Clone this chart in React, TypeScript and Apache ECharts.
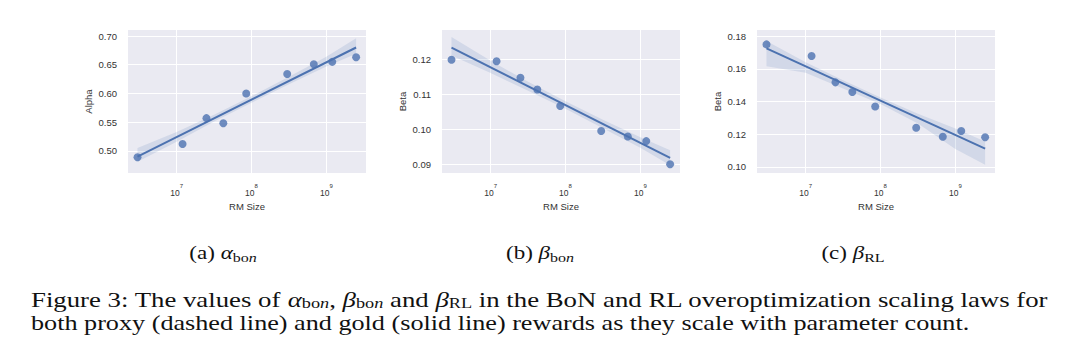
import React, { useEffect, useRef } from "react";
import * as echarts from "echarts";

// ---- data ----
const RM_SIZE = [3e6, 1.2e7, 2.5e7, 4.2e7, 8.5e7, 3e8, 6.8e8, 1.2e9, 2.5e9];
const ALPHA_BON = [0.489, 0.512, 0.557, 0.548, 0.6, 0.634, 0.651, 0.655, 0.663];
const BETA_BON = [0.1198, 0.1194, 0.1147, 0.1113, 0.1066, 0.0995, 0.0979, 0.0966, 0.09];
const BETA_RL = [0.1749, 0.1678, 0.1517, 0.1458, 0.1369, 0.124, 0.1185, 0.122, 0.1182];

// fitted regression line (values at first and last RM size)
const ALPHA_FIT = [0.49, 0.68];
const BETA_BON_FIT = [0.1233, 0.0918];
const BETA_RL_FIT = [0.1725, 0.1112];

// confidence band, read at these log10(RM size) positions
const BAND_LOG10_SIZE = [6.477, 7.0, 7.5, 8.0, 8.5, 9.0, 9.398];
const ALPHA_UPPER = [0.505, 0.533, 0.563, 0.595, 0.629, 0.664, 0.696];
const ALPHA_LOWER = [0.481, 0.516, 0.551, 0.584, 0.616, 0.647, 0.669];
const BETA_BON_UPPER = [0.1263, 0.1195, 0.1135, 0.108, 0.1027, 0.0977, 0.094];
const BETA_BON_LOWER = [0.121, 0.116, 0.111, 0.1058, 0.1003, 0.0947, 0.0897];
const BETA_RL_UPPER = [0.177, 0.164, 0.153, 0.1425, 0.1325, 0.1235, 0.1155];
const BETA_RL_LOWER = [0.1615, 0.1575, 0.148, 0.1385, 0.1265, 0.111, 0.1013];

// tick labels
const X_TICK_EXP = [7, 8, 9];
const ALPHA_TICKS = [0.5, 0.55, 0.6, 0.65, 0.7];
const BETA_BON_TICKS = [0.09, 0.1, 0.11, 0.12];
const BETA_RL_TICKS = [0.1, 0.12, 0.14, 0.16, 0.18];

const BLUE = "#4C72B0";
const SANS = "'Liberation Sans', Arial, Helvetica, sans-serif";
const SERIF = "'Liberation Serif', 'Times New Roman', serif";
const LABEL = "#333333";
const INK = "#111111";

const panels = [
  { left: 128, yMin: 0.4615, yMax: 0.7105, yName: "Alpha", ticks: ALPHA_TICKS, values: ALPHA_BON, fit: ALPHA_FIT, upper: ALPHA_UPPER, lower: ALPHA_LOWER },
  { left: 442, yMin: 0.0875, yMax: 0.1283, yName: "Beta", ticks: BETA_BON_TICKS, values: BETA_BON, fit: BETA_BON_FIT, upper: BETA_BON_UPPER, lower: BETA_BON_LOWER },
  { left: 757, yMin: 0.0963, yMax: 0.1837, yName: "Beta", ticks: BETA_RL_TICKS, values: BETA_RL, fit: BETA_RL_FIT, upper: BETA_RL_UPPER, lower: BETA_RL_LOWER },
];

function buildOption() {
  const grid: any[] = [];
  const xAxis: any[] = [];
  const yAxis: any[] = [];
  const series: any[] = [];
  const xs = RM_SIZE.map((s) => Math.log10(s));

  panels.forEach((p, i) => {
    grid.push({ left: p.left, top: 30, width: 238, height: 143, show: true, backgroundColor: "#EAEAF2", borderWidth: 0 });
    xAxis.push({
      type: "value", gridIndex: i, min: 6.35, max: 9.53,
      name: "RM Size", nameLocation: "middle", nameGap: 28,
      nameTextStyle: { fontFamily: SANS, fontSize: 9.5, color: LABEL },
      axisLine: { show: false },
      axisTick: { show: false, customValues: X_TICK_EXP },
      splitLine: { show: true, lineStyle: { color: "#ffffff", width: 1 } },
      axisLabel: {
        customValues: X_TICK_EXP, margin: 10,
        formatter: (v: number) => `{b|10}{s|${Math.round(v)}}`,
        rich: {
          b: { fontFamily: SANS, fontSize: 8.5, color: LABEL, lineHeight: 20 },
          s: { fontFamily: SANS, fontSize: 6, color: LABEL, verticalAlign: "top" },
        },
      },
    });
    yAxis.push({
      type: "value", gridIndex: i, min: p.yMin, max: p.yMax,
      name: p.yName, nameLocation: "middle", nameGap: 35,
      nameTextStyle: { fontFamily: SANS, fontSize: 9.5, color: LABEL },
      axisLine: { show: false },
      axisTick: { show: false, customValues: p.ticks },
      splitLine: { show: true, lineStyle: { color: "#ffffff", width: 1 } },
      axisLabel: {
        customValues: p.ticks, margin: 11,
        fontFamily: SANS, fontSize: 9.5, color: LABEL,
        formatter: (v: number) => v.toFixed(2),
      },
    });
    const upper = p.upper;
    const lower = p.lower;
    series.push({
      type: "custom", xAxisIndex: i, yAxisIndex: i, coordinateSystem: "cartesian2d",
      data: [[BAND_LOG10_SIZE[0], upper[0]]],
      z: 1, silent: true,
      renderItem: (_params: any, api: any) => {
        const pts: number[][] = [];
        for (let k = 0; k < BAND_LOG10_SIZE.length; k++) pts.push(api.coord([BAND_LOG10_SIZE[k], upper[k]]));
        for (let k = BAND_LOG10_SIZE.length - 1; k >= 0; k--) pts.push(api.coord([BAND_LOG10_SIZE[k], lower[k]]));
        return { type: "polygon", shape: { points: pts }, style: { fill: "rgba(76,114,176,0.15)" } };
      },
    });
    series.push({
      type: "scatter", xAxisIndex: i, yAxisIndex: i, z: 2,
      data: xs.map((x, k) => [x, p.values[k]]),
      symbolSize: 8, itemStyle: { color: BLUE, opacity: 0.8 },
    });
    series.push({
      type: "line", xAxisIndex: i, yAxisIndex: i, z: 3,
      data: [[xs[0], p.fit[0]], [xs[xs.length - 1], p.fit[1]]],
      symbol: "none", lineStyle: { color: BLUE, width: 2 },
    });
  });

  const capRich = {
    n: { fontFamily: SERIF, fontSize: 22, fill: INK, lineHeight: 24 },
    g: { fontFamily: SERIF, fontSize: 22, fontStyle: "italic", fill: INK, lineHeight: 24 },
    s: { fontFamily: SERIF, fontSize: 15, fill: INK, verticalAlign: "bottom" },
    si: { fontFamily: SERIF, fontSize: 15, fontStyle: "italic", fill: INK, verticalAlign: "bottom" },
  };
  const sub = {
    n: { fontFamily: SERIF, fontSize: 18, fill: INK, lineHeight: 22 },
    g: { fontFamily: SERIF, fontSize: 18, fontStyle: "italic", fill: INK, lineHeight: 22 },
    s: { fontFamily: SERIF, fontSize: 12.5, fill: INK, verticalAlign: "bottom" },
    si: { fontFamily: SERIF, fontSize: 12.5, fontStyle: "italic", fill: INK, verticalAlign: "bottom" },
  };

  const graphic = [
    { type: "text", x: 223, y: 253, scaleX: 1.28, style: { text: "{n|(a) }{g|α}{s|bo}{si|n}", rich: sub, align: "center", verticalAlign: "middle" } },
    { type: "text", x: 540, y: 253, scaleX: 1.28, style: { text: "{n|(b) }{g|β}{s|bo}{si|n}", rich: sub, align: "center", verticalAlign: "middle" } },
    { type: "text", x: 853, y: 253, scaleX: 1.28, style: { text: "{n|(c) }{g|β}{s|RL}", rich: sub, align: "center", verticalAlign: "middle" } },
    {
      type: "text", x: 31, y: 299, scaleX: 1.218,
      style: {
        text: "{n|Figure 3: The values of }{g|α}{s|bo}{si|n}{n|, }{g|β}{s|bo}{si|n}{n| and }{g|β}{s|RL}{n| in the BoN and RL overoptimization scaling laws for}",
        rich: capRich, align: "left", verticalAlign: "middle",
      },
    },
    {
      type: "text", x: 31, y: 322, scaleX: 1.19,
      style: {
        text: "{n|both proxy (dashed line) and gold (solid line) rewards as they scale with parameter count.}",
        rich: capRich, align: "left", verticalAlign: "middle",
      },
    },
  ];

  return { animation: false, backgroundColor: "#ffffff", grid, xAxis, yAxis, series, graphic };
}

export default function App() {
  const ref = useRef<HTMLDivElement>(null);
  useEffect(() => {
    document.body.style.margin = "0";
    if (!ref.current) return;
    const chart = echarts.init(ref.current, undefined, { renderer: "svg" });
    chart.setOption(buildOption() as any);
    return () => chart.dispose();
  }, []);
  return <div ref={ref} style={{ width: 1080, height: 363 }} />;
}
